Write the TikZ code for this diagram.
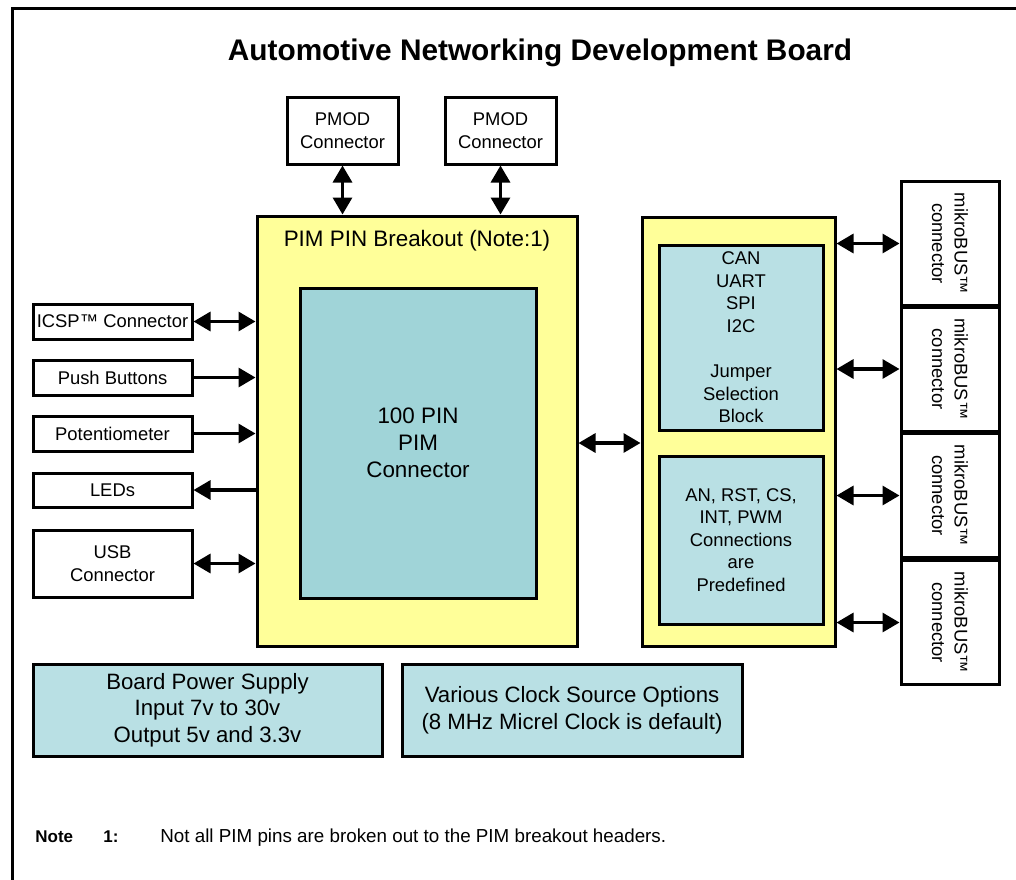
\documentclass[tikz,border=0pt]{standalone}
\usepackage{fontspec}
\setmainfont{Liberation Sans}
\usetikzlibrary{arrows.meta}
\definecolor{padyellow}{HTML}{FFFF99}
\definecolor{pimblue}{RGB}{160,212,216}
\definecolor{blockblue}{RGB}{185,224,228}
\newcommand{\mikro}{\rotatebox{-90}{\parbox{62pt}{\centering mikroBUS™\\connector}}}

\begin{document}
\begin{tikzpicture}[x=0.5pt,y=-0.5pt,
    box/.style={draw, line width=1.5pt, rectangle, inner sep=0pt, align=center,
      font=\fontsize{9.2}{11.3}\selectfont},
    side/.style={box, fill=white, minimum width=79.5pt},
    bus/.style={box, fill=white, minimum width=49pt, minimum height=58pt},
    pad/.style={box, fill=padyellow},
    inner/.style={box, fill=blockblue},
    bigtext/.style={font=\fontsize{11.2}{13.6}\selectfont},
    notetxt/.style={anchor=base west, inner sep=0pt},
    link/.style={line width=1.6pt, -{Triangle[length=8.5pt,width=9.5pt]}},
    dlink/.style={line width=1.6pt, {Triangle[length=8.5pt,width=9.5pt]}-{Triangle[length=8.5pt,width=9.5pt]}}]
    \useasboundingbox (0,0) rectangle (1016,879);
    \draw[line width=1.5pt] (12,900) -- (12,8) -- (1030,8);

    \node[font=\fontsize{14.9}{18}\bfseries\selectfont] (title) at (540,53) {Automotive Networking Development Board};

% PIM breakout and the headers on top
    \node[pad, minimum width=160pt, minimum height=215pt] (breakout) at (417,431) {};
    \node[bigtext] (breakoutlabel) at (417,241) {PIM PIN Breakout (Note:1)};
    \node[box, fill=pimblue, bigtext, minimum width=118pt, minimum height=155pt] (pim) at (418,443) {100 PIN\\PIM\\Connector};
    \node[box, fill=white, minimum width=55.5pt, minimum height=33.5pt] (pmodA) at (342.5,130.5) {PMOD\\Connector};
    \node[box, fill=white, minimum width=55.5pt, minimum height=33.5pt] (pmodB) at (500.5,130.5) {PMOD\\Connector};

% left side
    \node[side, minimum height=17.5pt] (icsp) at (112.5,321.5) {ICSP™ Connector};
    \node[side, minimum height=17.5pt] (buttons) at (112.5,377.5) {Push Buttons};
    \node[side, minimum height=17.5pt] (pot) at (112.5,433.5) {Potentiometer};
    \node[side, minimum height=17pt] (leds) at (112.5,490) {LEDs};
    \node[side, minimum height=33.5pt] (usb) at (112.5,563.5) {USB\\Connector};

% right side
    \node[pad, minimum width=96.5pt, minimum height=214.5pt] (hub) at (738.5,431.5) {};
    \node[inner, minimum width=82pt, minimum height=92.5pt] (jumper) at (741,337.5) {CAN\\UART\\SPI\\I2C\\[11.3pt]Jumper\\Selection\\Block};
    \node[inner, minimum width=82pt, minimum height=84pt] (fixed) at (741,540) {AN, RST, CS,\\INT, PWM\\Connections\\are\\Predefined};
    \node[bus] (busA) at (950,243.5) {\mikro};
    \node[bus] (busB) at (950,369) {\mikro};
    \node[bus] (busC) at (950,495.5) {\mikro};
    \node[bus] (busD) at (950,622.5) {\mikro};

% bottom
    \node[inner, font=\fontsize{11.1}{13.3}\selectfont, minimum width=174.5pt, minimum height=46pt] (power) at (207.5,710) {Board Power Supply\\Input 7v to 30v\\Output 5v and 3.3v};
    \node[inner, font=\fontsize{11.1}{13.3}\selectfont, minimum width=170pt, minimum height=46pt] (clock) at (572,710) {Various Clock Source Options\\(8 MHz Micrel Clock is default)};

    \node[notetxt, font=\fontsize{8.5}{10}\bfseries\selectfont] (notehead) at (35,842) {Note};
    \node[notetxt, font=\fontsize{8.5}{10}\bfseries\selectfont] (noteno) at (103,842) {1:};
    \node[notetxt, font=\fontsize{9.4}{11}\selectfont] (notetext) at (160,842) {Not all PIM pins are broken out to the PIM breakout headers.};

% connections
    \draw[dlink] (pmodA.south) -- (pmodA.south |- breakout.north);
    \draw[dlink] (pmodB.south) -- (pmodB.south |- breakout.north);
    \draw[dlink] (icsp.east) -- (icsp.east -| breakout.west);
    \draw[link] (buttons.east) -- (buttons.east -| breakout.west);
    \draw[link] (pot.east) -- (pot.east -| breakout.west);
    \draw[link] (leds.east -| breakout.west) -- (leds.east);
    \draw[dlink] (usb.east) -- (usb.east -| breakout.west);
    \draw[dlink] (breakout.east |- pim.center) -- (hub.west |- pim.center);
    \draw[dlink] (busA.west -| hub.east) -- (busA.west);
    \draw[dlink] (busB.west -| hub.east) -- (busB.west);
    \draw[dlink] (busC.west -| hub.east) -- (busC.west);
    \draw[dlink] (busD.west -| hub.east) -- (busD.west);
\end{tikzpicture}
\end{document}
